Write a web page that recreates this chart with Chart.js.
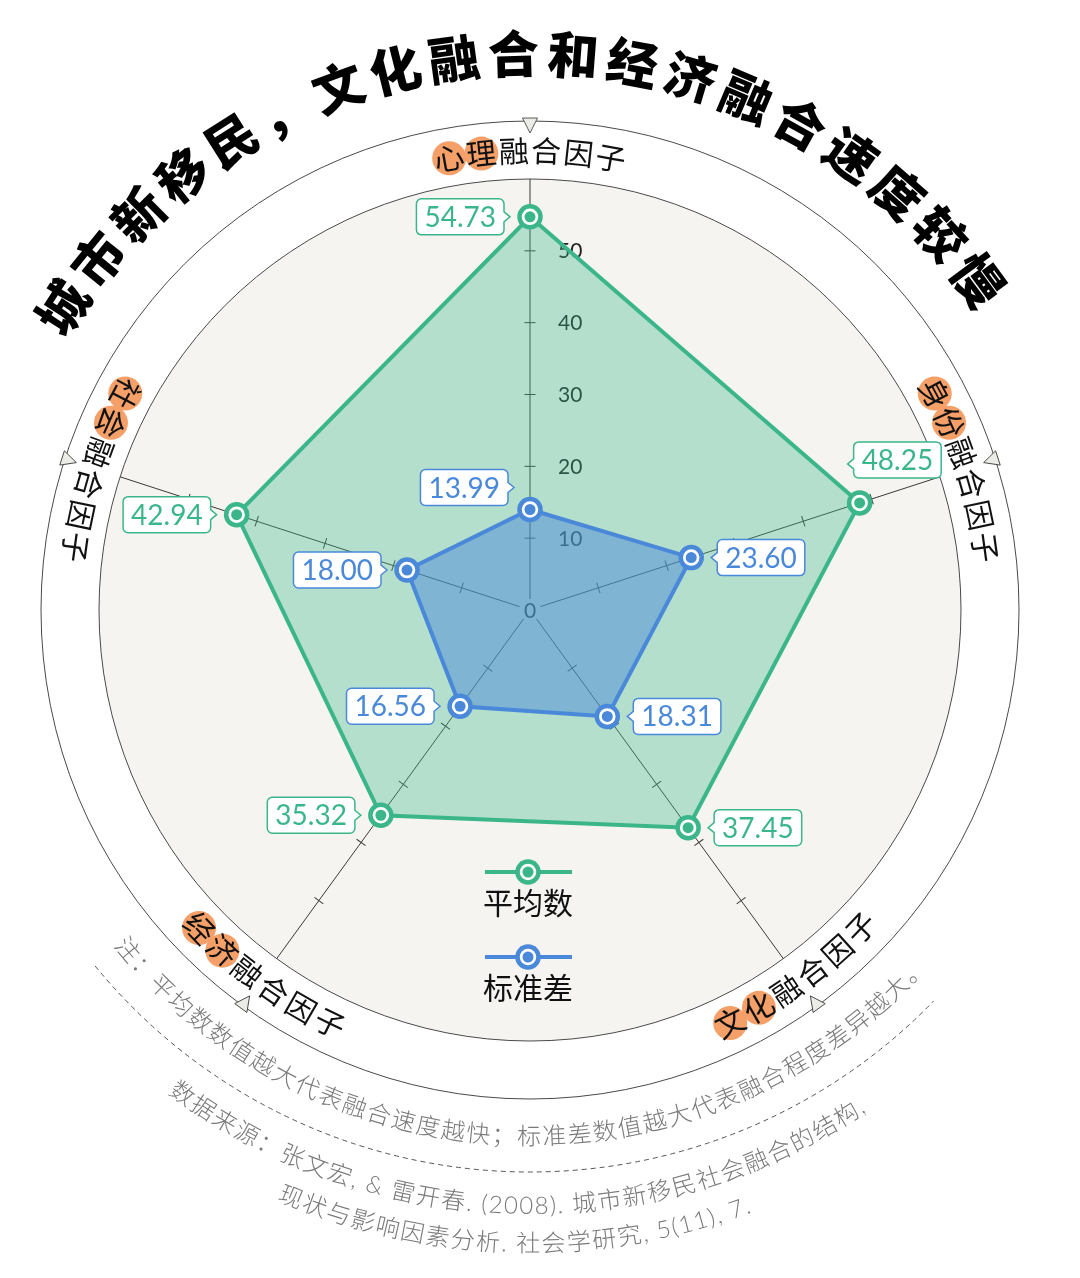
<!DOCTYPE html>
<html><head><meta charset="utf-8">
<script src="https://cdn.jsdelivr.net/npm/chart.js@4"></script>
<style>html,body{margin:0;padding:0;background:#fff;overflow:hidden}canvas{display:block}</style>
</head><body>
<canvas id="c" width="1080" height="1278" style="width:1080px;height:1278px"></canvas>
<script>
// ---------- data ----------
const titleText = '城市新移民，文化融合和经济融合速度较慢';
const categories = ['心理融合因子', '身份融合因子', '文化融合因子', '经济融合因子', '社会融合因子'];
const highlightCounts = [2, 2, 2, 2, 2];
const seriesNames = ['平均数', '标准差'];
const meanValues = [54.73, 48.25, 37.45, 35.32, 42.94];
const stdValues = [13.99, 23.60, 18.31, 16.56, 18.00];
const tickLabels = ['0', '10', '20', '30', '40', '50'];
const noteLines = [
  '注：平均数数值越大代表融合速度越快；标准差数值越大代表融合程度差异越大。',
  '数据来源：张文宏, & 雷开春. (2008). 城市新移民社会融合的结构,',
  '现状与影响因素分析. 社会学研究, 5(11), 7.'
];

// ---------- styles ----------
const GREEN = '#3bb68a';
const BLUE = '#4a89d9';
const ORANGE = '#f4a068';
const BEIGE = '#f5f4f0';
const OUTLINE = '#4a4a4a';
const CJK = '"Noto Sans CJK SC"';
const seriesColors = [GREEN, BLUE];
const labelPlacement = [
  [{pos: 'left'}, {pos: 'right', gap: -6, dy: -43, py: 4}, {pos: 'right'}, {pos: 'left'}, {pos: 'left'}],
  [{pos: 'left', gap: 22, dy: -22}, {pos: 'right'}, {pos: 'right'}, {pos: 'left'}, {pos: 'left'}]
];
const labelInward = [false, false, true, true, true];

function arcText(ctx, text, cx, cy, r, centerRad, o) {
  ctx.save();
  ctx.font = o.font;
  const chars = Array.from(text);
  const ws = chars.map(ch => ctx.measureText(ch).width);
  const sp = o.spacing || 0;
  const total = ws.reduce((a, b) => a + b, 0) + sp * (chars.length - 1);
  let s = -total / 2;
  const dir = o.inward ? -1 : 1;
  const th = [];
  chars.forEach((ch, i) => {
    const mid = s + ws[i] / 2;
    th.push(centerRad + dir * mid / r);
    s += ws[i] + sp;
  });
  if (o.highlight) {
    ctx.fillStyle = ORANGE;
    for (let i = 0; i < o.highlight; i++) {
      ctx.beginPath();
      ctx.arc(cx + r * Math.sin(th[i]), cy - r * Math.cos(th[i]), o.hlR, 0, Math.PI * 2);
      ctx.fill();
    }
  }
  ctx.fillStyle = o.color;
  ctx.textAlign = 'center';
  ctx.textBaseline = 'alphabetic';
  chars.forEach((ch, i) => {
    ctx.save();
    ctx.translate(cx + r * Math.sin(th[i]), cy - r * Math.cos(th[i]));
    ctx.rotate(o.inward ? th[i] + Math.PI : th[i]);
    ctx.fillText(ch, 0, o.size * 0.37);
    ctx.restore();
  });
  ctx.restore();
}

function callout(ctx, bx, by, w, h, r, side, pty, color) {
  const tip = 6, hw = 5;
  ctx.beginPath();
  ctx.moveTo(bx + r, by);
  ctx.lineTo(bx + w - r, by);
  ctx.arcTo(bx + w, by, bx + w, by + r, r);
  if (side === 'right') { ctx.lineTo(bx + w, pty - hw); ctx.lineTo(bx + w + tip, pty); ctx.lineTo(bx + w, pty + hw); }
  ctx.lineTo(bx + w, by + h - r);
  ctx.arcTo(bx + w, by + h, bx + w - r, by + h, r);
  ctx.lineTo(bx + r, by + h);
  ctx.arcTo(bx, by + h, bx, by + h - r, r);
  if (side === 'left') { ctx.lineTo(bx, pty + hw); ctx.lineTo(bx - tip, pty); ctx.lineTo(bx, pty - hw); }
  ctx.lineTo(bx, by + r);
  ctx.arcTo(bx, by, bx + r, by, r);
  ctx.closePath();
  ctx.fillStyle = '#fff';
  ctx.fill();
  ctx.lineWidth = 1.5;
  ctx.strokeStyle = color;
  ctx.stroke();
}

function marker(ctx, x, y, color) {
  ctx.beginPath(); ctx.arc(x, y, 12.75, 0, Math.PI * 2); ctx.fillStyle = color; ctx.fill();
  ctx.beginPath(); ctx.arc(x, y, 8.25, 0, Math.PI * 2); ctx.fillStyle = '#fff'; ctx.fill();
  ctx.beginPath(); ctx.arc(x, y, 5.5, 0, Math.PI * 2); ctx.fillStyle = color; ctx.fill();
}

const decor = {
  id: 'decor',
  beforeDraw(chart) {
    const ctx = chart.ctx, sc = chart.scales.r;
    const cx = sc.xCenter, cy = sc.yCenter, R = sc.drawingArea;
    const ring = R + 58;
    ctx.save();
    ctx.fillStyle = '#fff';
    ctx.fillRect(0, 0, chart.width, chart.height);
    // outer ring
    ctx.beginPath(); ctx.arc(cx, cy, ring, 0, Math.PI * 2);
    ctx.lineWidth = 1; ctx.strokeStyle = OUTLINE; ctx.stroke();
    // beige disc
    ctx.beginPath(); ctx.arc(cx, cy, R, 0, Math.PI * 2);
    ctx.fillStyle = BEIGE; ctx.fill(); ctx.stroke();
    // triangles
    chart.data.labels.forEach((lab, i) => {
      const a = sc.getIndexAngle(i);
      ctx.save();
      ctx.translate(cx, cy); ctx.rotate(a);
      ctx.beginPath();
      ctx.moveTo(0, -(ring - 12));
      ctx.lineTo(-7.5, -(ring + 3));
      ctx.lineTo(7.5, -(ring + 3));
      ctx.closePath();
      ctx.fillStyle = '#ecece6'; ctx.fill();
      ctx.lineWidth = 0.9; ctx.strokeStyle = OUTLINE; ctx.stroke();
      ctx.restore();
    });
    // axis labels
    chart.data.labels.forEach((lab, i) => {
      const a = sc.getIndexAngle(i);
      arcText(ctx, lab, cx, cy, R + 28, a, {
        font: '400 30px ' + CJK, size: 30, spacing: 2.5, color: '#111',
        inward: labelInward[i], highlight: highlightCounts[i], hlR: 17
      });
    });
    // title
    arcText(ctx, titleText, cx, cy, 556, -1.7 * Math.PI / 180, {
      font: '900 51px ' + CJK, size: 51, spacing: 8.7, color: '#000'
    });
    // notes
    const nf = '300 24px Lato, ' + CJK;
    const noteC = 181.5 * Math.PI / 180;
    arcText(ctx, noteLines[0], cx, cy, 526, noteC, {font: nf, size: 24, spacing: 1.35, color: '#7a7a7a', inward: true});
    arcText(ctx, noteLines[1], cx, cy, 595, noteC, {font: nf, size: 24, spacing: 1.35, color: '#7a7a7a', inward: true});
    arcText(ctx, noteLines[2], cx, cy, 633, noteC, {font: nf, size: 24, spacing: 1.35, color: '#7a7a7a', inward: true});
    // dashed separator arc
    ctx.beginPath();
    ctx.setLineDash([5, 4]);
    const a0 = Math.PI / 2 + (230.7 - 180) * Math.PI / 180;
    const a1 = Math.PI / 2 - (180 - 134.1) * Math.PI / 180;
    ctx.arc(cx, cy, 562, a0, a1, true);
    ctx.lineWidth = 1; ctx.strokeStyle = '#555'; ctx.stroke();
    ctx.setLineDash([]);
    ctx.restore();
  },
  beforeDatasetsDraw(chart) {
    const ctx = chart.ctx, sc = chart.scales.r;
    const cx = sc.xCenter, cy = sc.yCenter;
    ctx.save();
    // tick marks on every axis
    chart.data.labels.forEach((lab, i) => {
      const a = sc.getIndexAngle(i);
      ctx.save();
      ctx.translate(cx, cy); ctx.rotate(a);
      ctx.beginPath();
      tickLabels.forEach(t => {
        const v = Number(t);
        if (v === 0) return;
        const d = sc.getDistanceFromCenterForValue(v);
        ctx.moveTo(-5.5, -d); ctx.lineTo(5.5, -d);
      });
      ctx.lineWidth = 1; ctx.strokeStyle = '#3a3a3a'; ctx.stroke();
      ctx.restore();
    });
    // center backdrop + tick labels
    ctx.beginPath(); ctx.arc(cx, cy, 11, 0, Math.PI * 2); ctx.fillStyle = BEIGE; ctx.fill();
    ctx.font = '400 21px Lato';
    ctx.fillStyle = '#222';
    ctx.textBaseline = 'alphabetic';
    tickLabels.forEach(t => {
      const v = Number(t);
      const d = sc.getDistanceFromCenterForValue(v);
      if (v === 0) { ctx.textAlign = 'center'; ctx.fillText(t, cx, cy + 7.5); }
      else { ctx.textAlign = 'left'; ctx.fillText(t, cx + 28, cy - d + 7.5); }
    });
    ctx.restore();
  },
  afterDatasetsDraw(chart) {
    const ctx = chart.ctx, sc = chart.scales.r;
    const cx = sc.xCenter;
    ctx.save();
    // inner dots
    chart.data.datasets.forEach((ds, di) => {
      chart.getDatasetMeta(di).data.forEach(pt => {
        ctx.beginPath(); ctx.arc(pt.x, pt.y, 5.5, 0, Math.PI * 2);
        ctx.fillStyle = seriesColors[di]; ctx.fill();
      });
    });
    // value callouts
    ctx.font = '400 28px Lato';
    chart.data.datasets.forEach((ds, di) => {
      chart.getDatasetMeta(di).data.forEach((pt, j) => {
        const txt = ds.data[j].toFixed(2);
        const p = labelPlacement[di][j];
        const gap = p.gap !== undefined ? p.gap : 26;
        const tw = ctx.measureText(txt).width;
        const w = tw + 16, h = 36;
        const cyb = pt.y + (p.dy || 0);
        const bx = p.pos === 'left' ? pt.x - gap - w : pt.x + gap;
        const by = cyb - h / 2;
        const side = p.pos === 'left' ? 'right' : 'left';
        callout(ctx, bx, by, w, h, 5, side, cyb + (p.py || 0), seriesColors[di]);
        ctx.fillStyle = seriesColors[di];
        ctx.textAlign = 'center';
        ctx.textBaseline = 'alphabetic';
        ctx.fillText(txt, bx + w / 2, cyb + 10);
      });
    });
    // legend
    const legY = [872, 957];
    chart.data.datasets.forEach((ds, di) => {
      const y = legY[di];
      ctx.beginPath(); ctx.moveTo(cx - 45, y); ctx.lineTo(cx + 42, y);
      ctx.lineWidth = 4; ctx.strokeStyle = seriesColors[di]; ctx.stroke();
      marker(ctx, cx - 2, y, seriesColors[di]);
      ctx.font = '400 30px ' + CJK;
      ctx.fillStyle = '#111';
      ctx.textAlign = 'center';
      ctx.textBaseline = 'alphabetic';
      ctx.fillText(ds.label, cx - 2, y + 31 + 11);
    });
    ctx.restore();
  }
};

new Chart(document.getElementById('c'), {
  type: 'radar',
  data: {
    labels: categories,
    datasets: [
      {label: seriesNames[0], data: meanValues, borderColor: GREEN, backgroundColor: 'rgba(59,182,138,0.34)',
       borderWidth: 4, pointRadius: 10.5, pointBorderWidth: 4.5, pointBackgroundColor: '#fff',
       pointBorderColor: GREEN, fill: true, order: 1},
      {label: seriesNames[1], data: stdValues, borderColor: BLUE, backgroundColor: 'rgba(74,137,217,0.5)',
       borderWidth: 4, pointRadius: 10.5, pointBorderWidth: 4.5, pointBackgroundColor: '#fff',
       pointBorderColor: BLUE, fill: true, order: 0}
    ]
  },
  options: {
    responsive: false,
    animation: false,
    events: [],
    layout: {padding: {left: 99, right: 119, top: 179, bottom: 237}},
    plugins: {legend: {display: false}, tooltip: {enabled: false}},
    scales: {
      r: {
        min: 0, max: 60,
        ticks: {display: false, stepSize: 10},
        grid: {display: false},
        angleLines: {display: true, color: '#3a3a3a', lineWidth: 1},
        pointLabels: {display: false}
      }
    }
  },
  plugins: [decor]
});
</script>
</body></html>
